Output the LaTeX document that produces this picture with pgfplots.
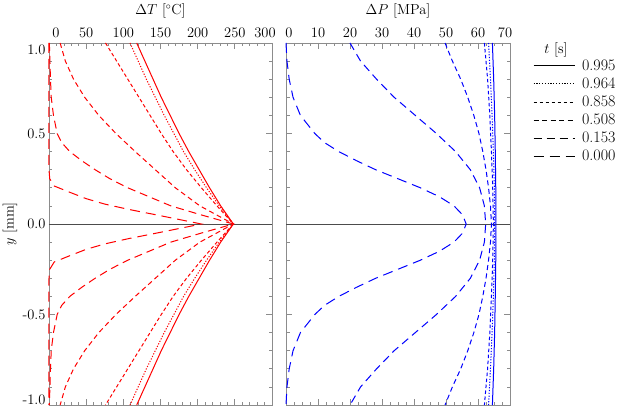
\documentclass[border=0pt]{standalone}
\usepackage{pgfplots}
\pgfplotsset{compat=1.18}
\newcommand{\fs}{\fontsize{14.5}{17}\selectfont}
\newcommand{\lf}{\fontsize{16}{18}\selectfont}
\tikzset{
  s995/.style={solid},
  s964/.style={dash pattern=on 1.2pt off 1.6pt},
  s858/.style={dash pattern=on 3.5pt off 2.5pt},
  s508/.style={dash pattern=on 5pt off 3.5pt},
  s153/.style={dash pattern=on 8pt off 5pt},
  s000/.style={dash pattern=on 10pt off 6pt},
}
\pgfplotsset{
  panel/.style={
    scale only axis, height=362pt, clip=false,
    ymin=-1, ymax=1,
    ytick={-1,-0.5,0,0.5,1}, minor y tick num=4,
    xticklabel pos=upper,
    axis line style={black!45, line width=0.8pt},
    every tick/.style={black!45, line width=0.7pt},
    major tick length=6pt, minor tick length=3.5pt,
    tick label style={font=\fs},
    xticklabel style={anchor=base, yshift=5pt},
    every axis plot/.append style={line width=1pt},
  },
}
\begin{document}
\begin{tikzpicture}
\path[use as bounding box] (0,0) rectangle (623pt,407pt);

\begin{axis}[panel, at={(49pt,2pt)}, anchor=south west, width=223pt,
  xmin=0, xmax=300, xtick={0,50,...,300}, minor x tick num=4,
  xticklabels={\hspace*{14pt}0,50,100,150,200,250,300\hspace*{14pt}},
  yticklabels={\raisebox{5pt}[\height][\depth]{-1.0},-0.5,0.0,0.5,\raisebox{-7pt}[\height][\depth]{1.0}},
]
\addplot[black!70, line width=0.8pt] coordinates {(0,0) (300,0)};
% t = 0.995
\addplot[red, s995] coordinates {(118,1) (129,0.9) (140,0.8) (151,0.7) (163,0.6) (175,0.5) (188,0.4) (202,0.3) (216,0.2) (231,0.1) (248,0) (231,-0.1) (216,-0.2) (202,-0.3) (188,-0.4) (175,-0.5) (163,-0.6) (151,-0.7) (140,-0.8) (129,-0.9) (118,-1)};
% t = 0.964
\addplot[red, s964] coordinates {(109,1) (120,0.9) (131,0.8) (143,0.7) (155,0.6) (168,0.5) (181,0.4) (196,0.3) (212,0.2) (229,0.1) (248,0) (229,-0.1) (212,-0.2) (196,-0.3) (181,-0.4) (168,-0.5) (155,-0.6) (143,-0.7) (131,-0.8) (120,-0.9) (109,-1)};
% t = 0.858
\addplot[red, s858] coordinates {(76,1) (91,0.9) (106,0.8) (121,0.7) (136,0.6) (151,0.5) (167,0.4) (185,0.3) (205,0.2) (226,0.1) (248,0) (226,-0.1) (205,-0.2) (185,-0.3) (167,-0.4) (151,-0.5) (136,-0.6) (121,-0.7) (106,-0.8) (91,-0.9) (76,-1)};
% t = 0.508
\addplot[red, s508] coordinates {(15,1) (22,0.9) (33,0.8) (48,0.7) (67,0.6) (90,0.5) (116,0.4) (143,0.3) (170,0.2) (203,0.1) (248,0) (203,-0.1) (170,-0.2) (143,-0.3) (116,-0.4) (90,-0.5) (67,-0.6) (48,-0.7) (33,-0.8) (22,-0.9) (15,-1)};
% t = 0.153
\addplot[red, s153] coordinates {(0.5,1) (2,0.8) (3,0.7) (6,0.6) (11,0.5) (17,0.45) (28,0.4) (44,0.35) (62,0.3) (82,0.25) (106,0.2) (135,0.15) (164,0.1) (205,0.05) (248,0) (205,-0.05) (164,-0.1) (135,-0.15) (106,-0.2) (82,-0.25) (62,-0.3) (44,-0.35) (28,-0.4) (17,-0.45) (11,-0.5) (6,-0.6) (3,-0.7) (2,-0.8) (0.5,-1)};
% t = 0.000
\addplot[red, s000] coordinates {(0,1) (0,0.3) (1,0.25) (7,0.21) (25,0.18) (50,0.14) (75,0.11) (108,0.08) (145,0.05) (175,0.025) (205,0) (175,-0.025) (145,-0.05) (108,-0.08) (75,-0.11) (50,-0.14) (25,-0.18) (7,-0.21) (1,-0.25) (0,-0.3) (0,-1)};
\node[font=\fs] at (rel axis cs:0.5,1.0884) {$\Delta T$ [$^\circ$C]};
\node[font=\fs, rotate=90] at (rel axis cs:-0.1749,0.5) {$y$ [mm]};
\end{axis}

\begin{axis}[panel, at={(286pt,2pt)}, anchor=south west, width=224pt,
  xmin=0, xmax=70, xtick={0,10,...,70}, minor x tick num=3,
  xticklabels={\hspace*{6pt}0,10,20,30,40,50,60,70\hspace*{10pt}},
  yticklabels={},
  legend style={at={(rel axis cs:1.1027,0.96)}, anchor=north west,
    draw=none, fill=none, inner sep=0pt,
    nodes={inner sep=2pt}, row sep=2pt, column sep=5pt},
  legend cell align=left,
  legend image code/.code={\draw[#1, line width=0.9pt] (0pt,0pt) -- (41pt,0pt);},
]
\addlegendimage{black, s995}
\addlegendimage{black, s964}
\addlegendimage{black, s858}
\addlegendimage{black, s508}
\addlegendimage{black, s153}
\addlegendimage{black, s000}
\legend{\lf 0.995,\lf 0.964,\lf 0.858,\lf 0.508,\lf 0.153,\lf 0.000}
\addplot[black!70, line width=0.8pt, forget plot] coordinates {(0,0) (70,0)};
% t = 0.995
\addplot[blue, s995, forget plot] coordinates {(64.5,1) (64.9,0.8) (65.2,0.6) (65.4,0.4) (65.55,0.2) (65.6,0) (65.55,-0.2) (65.4,-0.4) (65.2,-0.6) (64.9,-0.8) (64.5,-1)};
% t = 0.964
\addplot[blue, s964, forget plot] coordinates {(63.3,1) (63.9,0.8) (64.4,0.6) (64.8,0.4) (65.1,0.2) (65.2,0) (65.1,-0.2) (64.8,-0.4) (64.4,-0.6) (63.9,-0.8) (63.3,-1)};
% t = 0.858
\addplot[blue, s858, forget plot] coordinates {(62.0,1) (63.0,0.8) (63.7,0.6) (64.2,0.4) (64.6,0.2) (64.8,0) (64.6,-0.2) (64.2,-0.4) (63.7,-0.6) (63.0,-0.8) (62.0,-1)};
% t = 0.508
\addplot[blue, s508, forget plot] coordinates {(49.7,1) (52,0.9) (54.6,0.8) (56.8,0.7) (58.7,0.6) (60.3,0.5) (61.5,0.4) (62.5,0.3) (63.3,0.2) (63.9,0.1) (64.2,0) (63.9,-0.1) (63.3,-0.2) (62.5,-0.3) (61.5,-0.4) (60.3,-0.5) (58.7,-0.6) (56.8,-0.7) (54.6,-0.8) (52,-0.9) (49.7,-1)};
% t = 0.153
\addplot[blue, s153, forget plot] coordinates {(20,1) (23.3,0.9) (28.3,0.8) (33.8,0.7) (40.4,0.6) (47,0.5) (53,0.4) (57.6,0.3) (60.5,0.2) (62,0.1) (62.4,0) (62,-0.1) (60.5,-0.2) (57.6,-0.3) (53,-0.4) (47,-0.5) (40.4,-0.6) (33.8,-0.7) (28.3,-0.8) (23.3,-0.9) (20,-1)};
% t = 0.000
\addplot[blue, s000, forget plot] coordinates {(0,1) (0.3,0.9) (1,0.8) (2.2,0.7) (4.5,0.6) (9,0.5) (12,0.45) (16.5,0.4) (22,0.35) (28,0.3) (35,0.25) (42,0.2) (48,0.15) (52.5,0.1) (55.2,0.05) (56.3,0) (55.2,-0.05) (52.5,-0.1) (48,-0.15) (42,-0.2) (35,-0.25) (28,-0.3) (22,-0.35) (16.5,-0.4) (12,-0.45) (9,-0.5) (4.5,-0.6) (2.2,-0.7) (1,-0.8) (0.3,-0.9) (0,-1)};
\node[font=\fs] at (rel axis cs:0.5,1.0884) {$\Delta P$ [MPa]};
\node[font=\fs] at (rel axis cs:1.2054,0.9807) {$t$ [s]};
\end{axis}
\end{tikzpicture}
\end{document}
